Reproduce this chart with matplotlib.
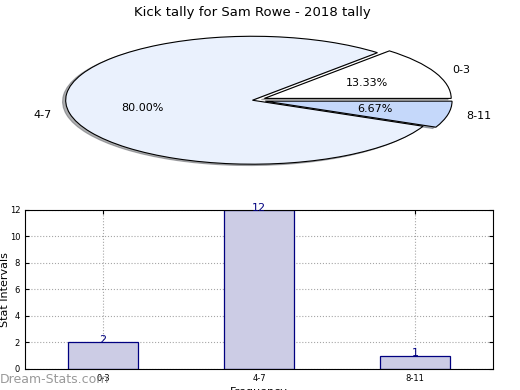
import matplotlib
matplotlib.use("Agg")
import matplotlib.pyplot as plt
import numpy as np

# data
categories = ["0-3", "4-7", "8-11"]
counts = [2, 12, 1]
pie_colors = ["#ffffff", "#eaf1fd", "#c5d8fa"]
explode = [0.07, 0.0, 0.07]

title = "Kick tally for Sam Rowe - 2018 tally"


def main():
    fig = plt.figure(figsize=(5.2, 3.9), dpi=100)

    # ---- pie (stretched, not circular) ----
    ax1 = fig.add_axes([0.0365, 0.538, 0.898, 0.41])
    wedges, texts, autotexts = ax1.pie(counts, labels=categories, colors=pie_colors,
                                       explode=explode, autopct="%.2f%%",
                                       shadow={"ox": -0.012, "oy": -0.015, "shade": 0.6},
                                       startangle=0, counterclock=True,
                                       wedgeprops={"edgecolor": "black", "linewidth": 0.8},
                                       textprops={"fontsize": 8})
    ax1.set_aspect("auto")
    ax1.set_xlim(-1.25, 1.25)
    ax1.set_ylim(-1.25, 1.25)
    ax1.set_title(title, fontsize=9.5, pad=3)

    # ---- bar chart ----
    ax2 = fig.add_axes([0.048, 0.054, 0.9, 0.408])
    x = np.arange(len(categories))
    ax2.bar(x, counts, width=0.45, color="#cccce5", edgecolor="navy",
            linewidth=0.9, zorder=2)
    for xi, c in zip(x, counts):
        ax2.annotate(str(c), (xi, c), xytext=(0, -2), textcoords="offset points",
                     ha="center", va="bottom", color="navy", fontsize=8)

    ax2.set_xlim(-0.5, 2.5)
    ax2.set_ylim(0, 12)
    ax2.set_xticks(x)
    ax2.set_xticklabels(categories)
    ax2.set_yticks(range(0, 13, 2))
    ax2.tick_params(direction="in", labelsize=6, length=3, top=True, right=True)
    ax2.grid(True, linestyle=":", color="gray", linewidth=0.8, alpha=0.7, zorder=0)
    ax2.set_ylabel("Stat Intervals", fontsize=8, labelpad=0)
    ax2.set_xlabel("Frequency", fontsize=8, labelpad=3)

    fig.text(0.0, 0.01, "Dream-Stats.com", color="gray", fontsize=9, alpha=0.8,
             ha="left", va="bottom")

    fig.savefig("out.png", dpi=100)
    plt.close()


if __name__ == "__main__":
    main()
